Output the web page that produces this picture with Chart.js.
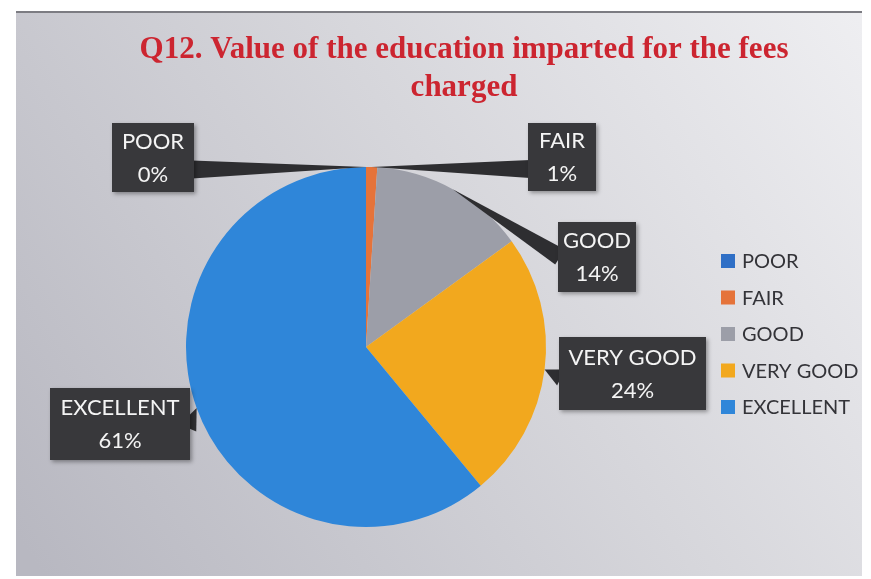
<!DOCTYPE html>
<html>
<head>
<meta charset="utf-8">
<script src="https://cdn.jsdelivr.net/npm/chart.js@4.4.1/dist/chart.umd.min.js"></script>
<style>
  html, body { margin: 0; padding: 0; background: #ffffff; }
  #wrap { width: 871px; height: 579px; position: relative; }
</style>
</head>
<body>
<div id="wrap"><canvas id="chart" width="871" height="579"></canvas></div>
<script>
const categories = ["POOR", "FAIR", "GOOD", "VERY GOOD", "EXCELLENT"];
const percents = [0, 1, 14, 24, 61];
const sliceColors = ["#2f6fc6", "#e5733a", "#9c9ea8", "#f2a81e", "#2f86d9"];
const titleLines = ["Q12. Value of the education imparted for the fees", "charged"];

// where each callout box sits (x, y, w, h) - layout only
const boxes = [
  [112, 123, 82, 69],
  [528, 123, 68, 68],
  [558, 222, 78, 70],
  [559, 337, 147, 73],
  [50, 388, 140, 72]
];

// background panel + title
const backdrop = {
  id: "backdrop",
  beforeDraw(chart) {
    const ctx = chart.ctx;
    ctx.save();
    ctx.fillStyle = "#ffffff";
    ctx.fillRect(0, 0, chart.width, chart.height);
    let g = ctx.createLinearGradient(860, 20, 40, 570);
    g.addColorStop(0, "#eeeef1");
    g.addColorStop(0.45, "#d6d6db");
    g.addColorStop(1, "#b8b8c1");
    ctx.fillStyle = g;
    ctx.fillRect(16, 12, 846, 564);
    ctx.fillStyle = "#7c7c82";
    ctx.fillRect(16, 11, 846, 2);

    ctx.fillStyle = "#cc2530";
    ctx.font = "bold 31px 'Liberation Serif', 'DejaVu Serif', serif";
    ctx.textAlign = "center";
    ctx.textBaseline = "middle";
    ctx.fillText(titleLines[0], 464, 50);
    ctx.fillText(titleLines[1], 464, 88);
    ctx.restore();
  }
};

// data callouts with tapered leaders
const callouts = {
  id: "callouts",
  afterDatasetsDraw(chart) {
    const ctx = chart.ctx;
    const meta = chart.getDatasetMeta(0);
    ctx.save();
    meta.data.forEach((arc, i) => {
      const p = arc.getProps(["x", "y", "startAngle", "endAngle", "outerRadius"], true);
      const mid = (p.startAngle + p.endAngle) / 2;
      const r = p.outerRadius;
      const tx = p.x + Math.cos(mid) * r;
      const ty = p.y + Math.sin(mid) * r;
      const [bx, by, bw, bh] = boxes[i];
      const cx = bx + bw / 2, cy = by + bh / 2;
      // leader wedge from box towards slice
      const ex = tx < bx ? bx + 2 : (tx > bx + bw ? bx + bw - 2 : cx);
      const ey = cy + (i < 2 ? 12 : (i == 2 ? 0 : 4));
      const dx = tx - ex, dy = ty - ey;
      const len = Math.hypot(dx, dy) || 1;
      const nx = -dy / len * 9, ny = dx / len * 9;
      ctx.fillStyle = "#2e2e31";
      ctx.beginPath();
      ctx.moveTo(ex + nx, ey + ny);
      ctx.lineTo(tx, ty);
      ctx.lineTo(ex - nx, ey - ny);
      ctx.closePath();
      ctx.fill();

      ctx.shadowColor = "rgba(0,0,0,0.35)";
      ctx.shadowBlur = 4;
      ctx.shadowOffsetX = 2;
      ctx.shadowOffsetY = 2;
      ctx.fillStyle = "#38383b";
      ctx.fillRect(bx, by, bw, bh);
      ctx.shadowColor = "transparent";

      ctx.fillStyle = "#f4f4f4";
      ctx.font = "22px Lato, 'Open Sans', sans-serif";
      ctx.textAlign = "center";
      ctx.textBaseline = "middle";
      ctx.fillText(categories[i], cx, cy - 16);
      ctx.fillText(percents[i] + "%", cx, cy + 17);
    });
    ctx.restore();
  }
};

// legend on the right
const sideLegend = {
  id: "sideLegend",
  afterDraw(chart) {
    const ctx = chart.ctx;
    ctx.save();
    ctx.font = "20px Lato, 'Open Sans', sans-serif";
    ctx.textBaseline = "middle";
    ctx.textAlign = "left";
    categories.forEach((c, i) => {
      const y = 261 + i * 36.5;
      ctx.fillStyle = sliceColors[i];
      ctx.fillRect(721, y - 7, 14, 14);
      ctx.fillStyle = "#333338";
      ctx.fillText(c, 742, y + 1);
    });
    ctx.restore();
  }
};

new Chart(document.getElementById("chart"), {
  type: "pie",
  data: {
    labels: categories,
    datasets: [{
      data: percents,
      backgroundColor: sliceColors,
      borderWidth: 0
    }]
  },
  options: {
    responsive: false,
    animation: false,
    layout: { padding: { left: 186, right: 325, top: 167, bottom: 52 } },
    plugins: {
      legend: { display: false },
      tooltip: { enabled: false }
    }
  },
  plugins: [backdrop, callouts, sideLegend]
});
</script>
</body>
</html>
